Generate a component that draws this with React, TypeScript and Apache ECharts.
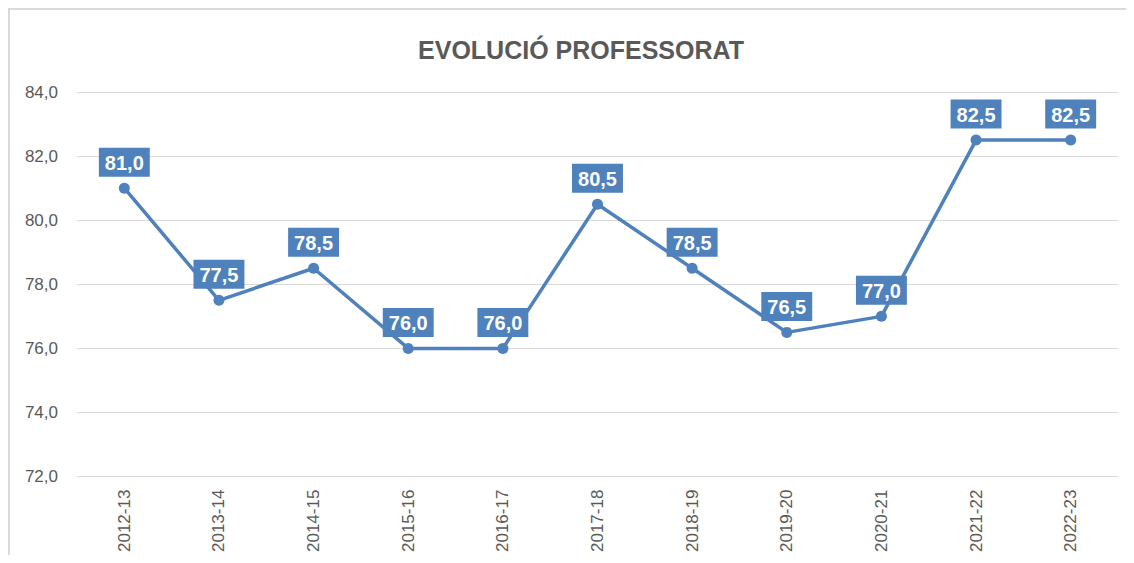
import React, { useEffect, useRef } from "react";
import * as echarts from "echarts";

const categories = ["2012-13", "2013-14", "2014-15", "2015-16", "2016-17", "2017-18", "2018-19", "2019-20", "2020-21", "2021-22", "2022-23"];
const values = [81.0, 77.5, 78.5, 76.0, 76.0, 80.5, 78.5, 76.5, 77.0, 82.5, 82.5];
const title = "EVOLUCIÓ PROFESSORAT";

const fmt = (v: number) => v.toFixed(1).replace(".", ",");

export default function App() {
  const ref = useRef<HTMLDivElement>(null);
  useEffect(() => {
    const chart = echarts.init(ref.current!, null, { renderer: "svg" });
    chart.setOption({
      animation: false,
      title: {
        text: title,
        left: 566,
        textAlign: "center",
        top: 22,
        textStyle: { fontFamily: "Liberation Sans", fontSize: 25, fontWeight: "bold", color: "#595959" },
      },
      grid: { left: 67, right: 8, top: 82, bottom: 75 },
      xAxis: {
        type: "category",
        data: categories,
        boundaryGap: true,
        axisLine: { show: false },
        axisTick: { show: false },
        axisLabel: { rotate: 90, margin: 13, fontFamily: "Liberation Sans", fontSize: 17, color: "#595959" },
      },
      yAxis: {
        type: "value",
        min: 72,
        max: 84,
        interval: 2,
        axisLabel: { margin: 19, fontFamily: "Liberation Sans", fontSize: 17, color: "#595959", formatter: (v: number) => fmt(v) },
        splitLine: { lineStyle: { color: "#d9d9d9", width: 1 } },
        axisLine: { show: false },
        axisTick: { show: false },
      },
      series: [
        {
          type: "line",
          data: values,
          symbol: "circle",
          symbolSize: 11,
          lineStyle: { color: "#4f81bd", width: 3.5 },
          itemStyle: { color: "#4f81bd" },
          label: {
            show: true,
            position: "top",
            distance: 6,
            formatter: (p: any) => fmt(p.value),
            backgroundColor: "#4f81bd",
            color: "#ffffff",
            fontFamily: "Liberation Sans",
            fontWeight: "bold",
            fontSize: 20,
            padding: [5, 6, 4, 6],
          },
        },
      ],
    });
    return () => chart.dispose();
  }, []);
  return (
    <div
      style={{
        width: 1118,
        height: 547,
        borderLeft: "2px solid #d9d9d9",
        borderTop: "2px solid #d9d9d9",
        boxSizing: "border-box",
        background: "#fff",
      }}
    >
      <div ref={ref} style={{ width: 1116, height: 545 }} />
    </div>
  );
}
